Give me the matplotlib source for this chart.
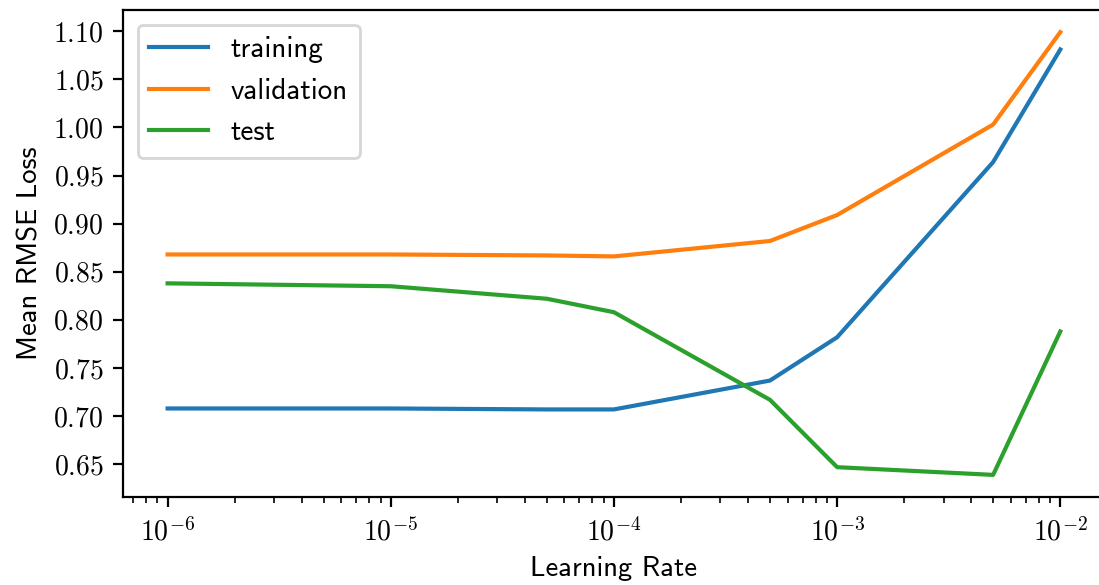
import matplotlib
matplotlib.use("Agg")
import numpy as np
import matplotlib.pyplot as plt
from matplotlib.ticker import FormatStrFormatter, MultipleLocator, FuncFormatter

# learning rates tried and mean RMSE loss per split
learning_rates = [1e-6, 1e-5, 5e-5, 1e-4, 5e-4, 1e-3, 5e-3, 1e-2]
training = [0.708, 0.708, 0.707, 0.707, 0.737, 0.782, 0.964, 1.081]
validation = [0.868, 0.868, 0.867, 0.866, 0.882, 0.909, 1.003, 1.099]
test = [0.838, 0.835, 0.822, 0.808, 0.717, 0.647, 0.639, 0.788]

plt.rcParams['font.family'] = ['cmss10', 'DejaVu Sans']
plt.rcParams['mathtext.fontset'] = 'cm'
plt.rcParams['font.size'] = 10

fig = plt.figure(figsize=(1099 / 200, 585 / 200), dpi=200)
ax = fig.add_axes([0.1119, 0.1504, 0.8935, 0.8325])

ax.plot(learning_rates, training, label='training', lw=1.5)
ax.plot(learning_rates, validation, label='validation', lw=1.5)
ax.plot(learning_rates, test, label='test', lw=1.5)

ax.set_xscale('log')
ax.xaxis.set_major_formatter(FuncFormatter(lambda v, pos: r'$10^{%d}$' % round(np.log10(v))))
ax.yaxis.set_major_locator(MultipleLocator(0.05))
ax.yaxis.set_major_formatter(FormatStrFormatter(r'$%.2f$'))
ax.set_xlabel('Learning Rate', fontsize=10.3)
ax.set_ylabel('Mean RMSE Loss', fontsize=10.3)
ax.legend(loc='upper left', prop={'size': 10.5})

fig.savefig('out.png', dpi=200)
